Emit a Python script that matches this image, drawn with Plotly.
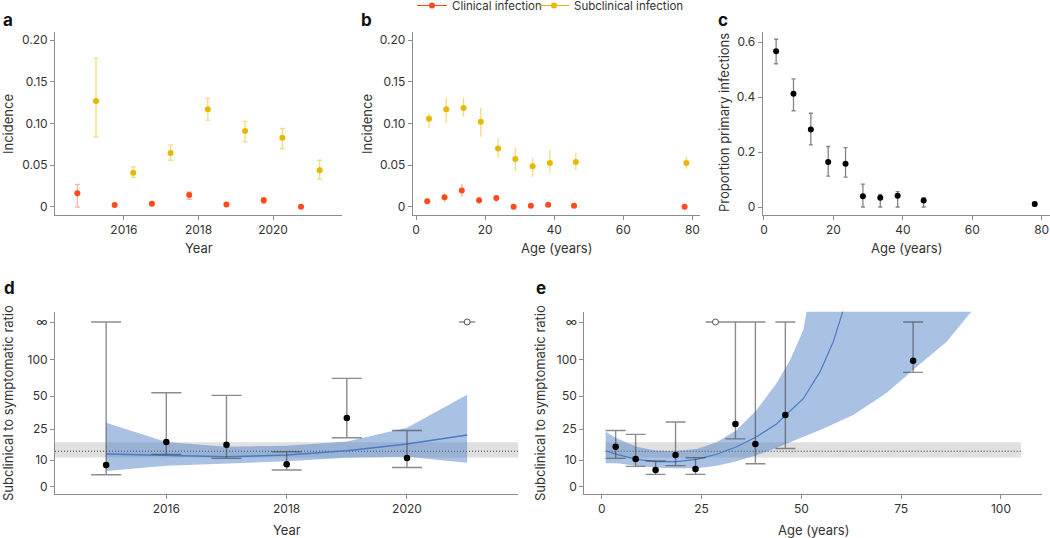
import numpy as np
import plotly.graph_objects as go

INF = float("inf")
FONT = "Inter"

# ---------------- Panel a: incidence by year ----------------
years = [2015, 2016, 2017, 2018, 2019, 2020, 2021]
clin_year = [0.0164, 0.0024, 0.0040, 0.0144, 0.0030, 0.0080, 0.0002]
clin_year_lo = [0.0000, 0.0012, 0.0028, 0.0090, 0.0018, 0.0044, 0.0000]
clin_year_hi = [0.0270, 0.0036, 0.0054, 0.0180, 0.0042, 0.0110, 0.0008]
sub_year = [0.127, 0.041, 0.0647, 0.117, 0.091, 0.083, 0.044]
sub_year_lo = [0.084, 0.0355, 0.056, 0.104, 0.078, 0.070, 0.0335]
sub_year_hi = [0.178, 0.048, 0.074, 0.130, 0.1025, 0.094, 0.056]

# ---------------- Panel b: incidence by age ----------------
age_mid = [3.5, 8.5, 13.5, 18.5, 23.5, 28.5, 33.5, 38.5, 46.0, 78.0]
clin_age = [0.0068, 0.0116, 0.0196, 0.0080, 0.0108, 0.0002, 0.0016, 0.0028, 0.0016, 0.0004]
clin_age_lo = [0.0044, 0.0056, 0.0124, 0.0036, 0.0064, 0.0000, 0.0004, 0.0004, 0.0004, 0.0000]
clin_age_hi = [0.0090, 0.0156, 0.0275, 0.0124, 0.0140, 0.0008, 0.0030, 0.0050, 0.0030, 0.0010]
sub_age = [0.1057, 0.117, 0.1185, 0.102, 0.070, 0.0575, 0.0487, 0.0527, 0.054, 0.0527]
sub_age_lo = [0.095, 0.101, 0.108, 0.084, 0.059, 0.0435, 0.036, 0.041, 0.0443, 0.0455]
sub_age_hi = [0.112, 0.131, 0.131, 0.1185, 0.083, 0.0706, 0.058, 0.068, 0.0654, 0.060]

# ---------------- Panel c: proportion primary infections ----------------
prim_prop = [0.566, 0.412, 0.282, 0.164, 0.157, 0.039, 0.034, 0.041, 0.024, 0.011]
prim_lo = [0.521, 0.350, 0.226, 0.112, 0.109, 0.0, 0.0, 0.0, 0.0, 0.0024]
prim_hi = [0.610, 0.466, 0.341, 0.220, 0.216, 0.083, 0.046, 0.056, 0.034, 0.017]

# ---------------- Panel d: ratio by year ----------------
ratio_year = [8.1, 18.7, 17.4, 8.4, 33.3, 11.0, INF]
ratio_year_lo = [4.5, 12.7, 10.8, 6.25, 20.8, 7.2, INF]
ratio_year_hi = [INF, 54.5, 50.8, 14.0, 74.3, 24.3, INF]
fit_year = [12.9, 12.27, 11.6, 12.4, 14.5, 17.7, 22.1]
fit_year_lo = [5.9, 7.87, 8.76, 9.5, 11.1, 11.6, 9.0]
fit_year_hi = [29.8, 18.7, 16.4, 16.9, 18.9, 26.0, 51.8]

# ---------------- Panel e: ratio by age ----------------
ratio_age = [16.4, 10.5, 6.25, 12.4, 6.6, INF, 28.8, 17.7, 35.6, 98.6]
ratio_age_lo = [10.8, 7.6, 4.6, 7.9, 4.6, INF, 20.2, 8.6, 15.6, 82.5]
ratio_age_hi = [24.3, 22.4, 9.6, 30.3, 11.1, INF, INF, INF, INF, INF]
fit_age_x = [1.0, 3.75, 8.75, 13.8, 18.8, 23.8, 28.8, 33.8, 38.8, 43.8, 46.1, 50.5, 54.7, 58.0, 60.35, 62.0]
fit_age = [14.5, 12.76, 10.34, 9.36, 9.36, 10.34, 12.76, 16.44, 21.27, 28.8, 35.6, 47.95, 83.5, 147.7, 227.0, 280.0]
fit_age_hi_x = [1.0, 3.75, 8.75, 13.8, 18.8, 23.8, 28.8, 33.8, 38.8, 43.8, 47.2, 50.5, 52.5, 95.0]
fit_age_hi = [23.7, 20.5, 16.44, 14.5, 14.35, 15.3, 18.56, 24.5, 39.4, 67.5, 99.6, 178.8, 300.0, 300.0]
fit_age_lo_x = [1.0, 3.75, 8.75, 13.8, 18.8, 23.8, 28.8, 33.8, 38.8, 43.8, 48.8, 54.7, 63.0, 71.4, 79.5, 86.4, 92.7, 95.0]
fit_age_lo = [8.76, 8.76, 7.87, 7.1, 6.9, 6.9, 7.87, 9.5, 12.3, 15.95, 19.8, 24.5, 35.6, 54.5, 93.1, 147.7, 229.0, 267.0]

# pooled reference ratio (dotted line + grey band)
pooled_ratio = 14.2
pooled_lo = 11.2
pooled_hi = 18.6
pooled_year_span = [2014.0, 2022.0]
pooled_age_span = [1.0, 105.0]

# ratio axis ticks
ratio_ticks = [0, 10, 25, 50, 100, INF]
ratio_tick_text = ["0", "10", "25", "50", "100", "∞"]

# ---------- custom ratio scale (piecewise, as in the figure's axis) ----------
_knot_r = [0, 10, 25, 50, 100, 200]          # 200 = where the "∞" tick sits
_knot_p = [0, 26.7, 57.7, 90.7, 127.0, 164.7]


def rt(v):
    v = np.asarray(v, dtype=float)
    v = np.where(np.isinf(v), 200.0, v)
    out = np.interp(v, _knot_r, _knot_p)
    slope = (_knot_p[-1] - _knot_p[-2]) / (_knot_r[-1] - _knot_r[-2])
    out = np.where(v > 200, _knot_p[-1] + (v - 200) * slope, out)
    return out


# colours
C_CLIN = "#FF4A1C"
C_CLIN_E = "rgba(255,90,50,0.45)"
C_SUB = "#E6B800"
C_SUB_E = "rgba(232,186,0,0.5)"
C_ERR = "rgba(70,70,70,0.62)"
C_BLUE = "#4A7CC4"
C_BAND = "rgba(72,124,196,0.47)"
C_GREY = "rgba(205,205,205,0.62)"

W, H = 1050, 538


def px_x(a, b):
    return [a / W, b / W]


def px_y(top, bottom):
    return [1 - bottom / H, 1 - top / H]


fig = go.Figure()


def errs(y, lo, hi):
    y = np.asarray(y, float)
    return dict(type="data", symmetric=False,
                array=(np.asarray(hi, float) - y).tolist(),
                arrayminus=(y - np.asarray(lo, float)).tolist())


# ---- a ----
dodge_year = 0.25
xa_c = [v - dodge_year for v in years]
xa_s = [v + dodge_year for v in years]
ea = errs(clin_year, clin_year_lo, clin_year_hi)
ea.update(color=C_CLIN_E, thickness=1.3, width=2.5)
fig.add_trace(go.Scatter(x=xa_c, y=clin_year, mode="markers", error_y=ea,
                         marker=dict(color=C_CLIN, size=6), showlegend=False,
                         xaxis="x", yaxis="y"))
ea = errs(sub_year, sub_year_lo, sub_year_hi)
ea.update(color=C_SUB_E, thickness=1.3, width=2.5)
fig.add_trace(go.Scatter(x=xa_s, y=sub_year, mode="markers", error_y=ea,
                         marker=dict(color=C_SUB, size=6), showlegend=False,
                         xaxis="x", yaxis="y"))

# ---- b ----
dodge_age = 0.25
xb_c = [v - dodge_age for v in age_mid]
xb_s = [v + dodge_age for v in age_mid]
eb = errs(clin_age, clin_age_lo, clin_age_hi)
eb.update(color=C_CLIN_E, thickness=1.3, width=0)
fig.add_trace(go.Scatter(x=xb_c, y=clin_age, mode="markers", error_y=eb,
                         marker=dict(color=C_CLIN, size=6), showlegend=False,
                         xaxis="x2", yaxis="y2"))
eb = errs(sub_age, sub_age_lo, sub_age_hi)
eb.update(color=C_SUB_E, thickness=1.3, width=0)
fig.add_trace(go.Scatter(x=xb_s, y=sub_age, mode="markers", error_y=eb,
                         marker=dict(color=C_SUB, size=6), showlegend=False,
                         xaxis="x2", yaxis="y2"))

# legend entries (one legend box each, placed side by side)
fig.add_trace(go.Scatter(x=[None], y=[None], mode="lines+markers", name="Clinical infection",
                         line=dict(color=C_CLIN, width=1), marker=dict(color=C_CLIN, size=6),
                         xaxis="x2", yaxis="y2", legend="legend"))
fig.add_trace(go.Scatter(x=[None], y=[None], mode="lines+markers", name="Subclinical infection",
                         line=dict(color=C_SUB, width=1), marker=dict(color=C_SUB, size=6),
                         xaxis="x2", yaxis="y2", legend="legend2"))

# ---- c ----
ec = errs(prim_prop, prim_lo, prim_hi)
ec.update(color="rgba(80,80,80,0.7)", thickness=1.3, width=2)
fig.add_trace(go.Scatter(x=age_mid, y=prim_prop, mode="markers", error_y=ec,
                         marker=dict(color="black", size=6), showlegend=False,
                         xaxis="x3", yaxis="y3"))


# ---- d & e helpers ----
def ratio_panel(xa, ya, span, fx, fy, hx, hy, lx, ly, px, py, plo, phi, capw, capw_open, lw):
    # pooled grey band
    fig.add_trace(go.Scatter(x=[span[0], span[1], span[1], span[0], span[0]],
                             y=rt([pooled_lo, pooled_lo, pooled_hi, pooled_hi, pooled_lo]).tolist(),
                             fill="toself", fillcolor=C_GREY, line=dict(width=0),
                             mode="lines", showlegend=False, hoverinfo="skip",
                             xaxis=xa, yaxis=ya))
    fig.add_trace(go.Scatter(x=span, y=rt([pooled_ratio, pooled_ratio]).tolist(), mode="lines",
                             line=dict(color="#333333", width=1.1, dash="1px,2px"),
                             showlegend=False, xaxis=xa, yaxis=ya))
    # fitted band
    bx = list(hx) + list(lx)[::-1]
    by = rt(hy).tolist() + rt(ly).tolist()[::-1]
    fig.add_trace(go.Scatter(x=bx, y=by, fill="toself", fillcolor=C_BAND, line=dict(width=0),
                             mode="lines", showlegend=False, hoverinfo="skip",
                             xaxis=xa, yaxis=ya))
    fig.add_trace(go.Scatter(x=fx, y=rt(fy).tolist(), mode="lines",
                             line=dict(color=C_BLUE, width=lw), showlegend=False,
                             xaxis=xa, yaxis=ya))
    # points
    pyv = np.asarray(py, float)
    fin = ~np.isinf(pyv)
    inf_ = np.isinf(pyv)
    pxa = np.asarray(px, float)
    ty = rt(py)
    tlo = rt(plo)
    thi = rt(phi)
    fig.add_trace(go.Scatter(
        x=pxa[fin].tolist(), y=ty[fin].tolist(), mode="markers",
        error_y=dict(type="data", symmetric=False, array=(thi - ty)[fin].tolist(),
                     arrayminus=(ty - tlo)[fin].tolist(), color=C_ERR, thickness=1.4, width=capw),
        marker=dict(color="black", size=6.5), showlegend=False, xaxis=xa, yaxis=ya))
    fig.add_trace(go.Scatter(
        x=pxa[inf_].tolist(), y=ty[inf_].tolist(), mode="markers",
        error_y=dict(type="data", symmetric=False, array=(thi - ty)[inf_].tolist(),
                     arrayminus=(ty - tlo)[inf_].tolist(), color=C_ERR, thickness=1.4, width=capw_open),
        marker=dict(color="white", size=6, line=dict(color="#555555", width=1)),
        showlegend=False, xaxis=xa, yaxis=ya, cliponaxis=False))


ratio_panel("x4", "y4", pooled_year_span, years, fit_year, years, fit_year_hi, years, fit_year_lo,
            years, ratio_year, ratio_year_lo, ratio_year_hi, 15, 8, 1.5)
ratio_panel("x5", "y5", pooled_age_span, fit_age_x, fit_age, fit_age_hi_x, fit_age_hi,
            fit_age_lo_x, fit_age_lo, age_mid, ratio_age, ratio_age_lo, ratio_age_hi, 10, 10, 1.2)

# ---------------- layout ----------------
axis_style = dict(showline=True, linecolor="#8c8c8c", linewidth=1, ticks="outside", ticklen=4,
                  tickcolor="#8c8c8c", showgrid=False, zeroline=False,
                  tickfont=dict(family=FONT, size=12, color="#333333"))

inc_ticks = [0, 0.05, 0.10, 0.15, 0.20]
inc_text = ["0", "0.05", "0.10", "0.15", "0.20"]

top_y = px_y(32, 215)
bot_y = px_y(311.7, 494)

legend_style = dict(orientation="h", xanchor="left", y=1 + 9 / H, yanchor="top",
                    font=dict(family=FONT, size=11.5, color="#333333"), itemwidth=30,
                    bgcolor="rgba(0,0,0,0)")

fig.update_layout(
    width=W, height=H, margin=dict(l=0, r=0, t=0, b=0, autoexpand=False),
    paper_bgcolor="white", plot_bgcolor="white",
    font=dict(family=FONT, color="#333333"),
    xaxis=dict(domain=px_x(55, 342), range=[2014.15, 2021.85], tickvals=[2016, 2018, 2020],
               anchor="y", **axis_style),
    yaxis=dict(domain=top_y, range=[-0.0096, 0.2096], tickvals=inc_ticks, ticktext=inc_text,
               anchor="x", **axis_style),
    xaxis2=dict(domain=px_x(412.7, 700), range=[-0.96, 82.2], tickvals=[0, 20, 40, 60, 80],
                anchor="y2", **axis_style),
    yaxis2=dict(domain=top_y, range=[-0.0096, 0.2096], tickvals=inc_ticks, ticktext=inc_text,
                anchor="x2", **axis_style),
    xaxis3=dict(domain=px_x(762.7, 1050), range=[-0.37, 82.4], tickvals=[0, 20, 40, 60, 80],
                anchor="y3", **axis_style),
    yaxis3=dict(domain=top_y, range=[-0.0291, 0.6364], tickvals=[0, 0.2, 0.4, 0.6],
                ticktext=["0", "0.2", "0.4", "0.6"], anchor="x3", **axis_style),
    xaxis4=dict(domain=px_x(55, 518.3), range=[2014.15, 2021.85], tickvals=[2016, 2018, 2020],
                anchor="y4", **axis_style),
    yaxis4=dict(domain=bot_y, range=[-7.3, 175], tickvals=rt(ratio_ticks).tolist(),
                ticktext=ratio_tick_text, anchor="x4", **axis_style),
    xaxis5=dict(domain=px_x(584.3, 1041.7), range=[-4.35, 110.2], tickvals=[0, 25, 50, 75, 100],
                anchor="y5", **axis_style),
    yaxis5=dict(domain=bot_y, range=[-7.3, 175], tickvals=rt(ratio_ticks).tolist(),
                ticktext=ratio_tick_text, anchor="x5", **axis_style),
    legend=dict(x=412 / W, **legend_style),
    legend2=dict(x=534 / W, **legend_style),
)


def ann(text, x, y, size=13, angle=0, bold=False):
    fig.add_annotation(text=("<b>%s</b>" % text) if bold else text, x=x / W,
                       y=1 - y / H,
                       xref="paper", yref="paper", showarrow=False, textangle=angle,
                       xanchor="center", yanchor="middle",
                       font=dict(family=FONT, size=size, color="#111111" if bold else "#333333"))


# panel letters
ann("a", 8, 20, size=17, bold=True)
ann("b", 366, 20, size=17, bold=True)
ann("c", 723, 20, size=17, bold=True)
ann("d", 9, 288, size=17, bold=True)
ann("e", 541, 288, size=17, bold=True)

# axis titles
ann("Year", 198.5, 248)
ann("Age (years)", 556, 248)
ann("Age (years)", 906, 248)
ann("Year", 286.5, 530)
ann("Age (years)", 813, 530)
ann("Incidence", 8, 124, angle=-90)
ann("Incidence", 367, 124, angle=-90)
ann("Proportion primary infections", 724, 123, angle=-90)
ann("Subclinical to symptomatic ratio", 8, 403, angle=-90)
ann("Subclinical to symptomatic ratio", 540, 403, angle=-90)

fig.write_html("out.html", config={"displayModeBar": False},
               post_script="document.body.style.margin='0px';document.body.style.overflow='hidden';")
